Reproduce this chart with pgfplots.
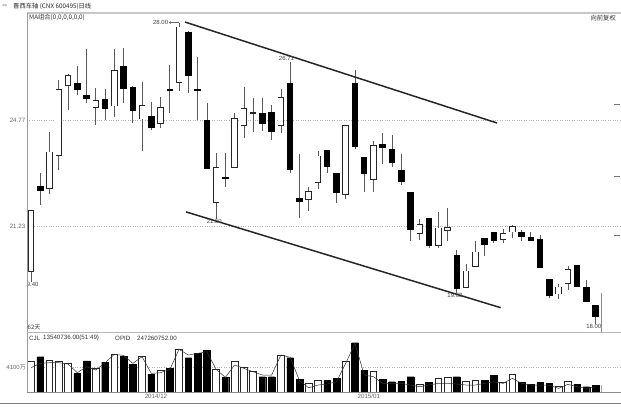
\documentclass[border=0pt]{standalone}
\usepackage{fontspec}
\setmainfont{Liberation Sans}
\newfontfamily\cjk{Noto Sans CJK SC}
\newfontfamily\sym{DejaVu Sans}
\usepackage{pgfplots}
\usepackage{pgfplotstable}
\usetikzlibrary{arrows.meta}
\pgfplotsset{compat=1.18}

% rising days: index, open, high, low, close
\pgfplotstableread{
i  o     h     l     c
0  19.72 21.78 19.40 21.78
2  22.47 24.38 22.30 23.72
3  23.58 26.10 23.11 25.80
4  25.90 26.30 25.10 26.26
7  25.16 25.84 24.60 25.44
9  25.22 27.12 24.88 26.42
12 24.79 26.02 23.74 25.27
14 24.64 25.54 24.49 25.21
16 25.99 28.00 25.74 27.87
20 22.01 23.69 21.50 23.20
22 23.19 24.99 23.19 24.83
23 24.58 25.88 24.16 25.16
24 24.99 25.49 24.38 25.03
27 24.58 25.79 24.35 25.52
30 22.11 22.56 21.75 22.42
31 22.67 23.75 22.49 23.59
34 22.28 24.60 22.14 24.60
37 22.78 24.08 22.37 23.94
42 20.99 21.47 20.79 21.31
44 20.60 21.73 20.51 21.20
45 21.09 21.84 20.76 21.21
47 19.20 19.99 19.20 19.77
48 19.89 20.76 19.89 20.40
51 20.79 21.14 20.68 21.01
52 21.04 21.30 20.84 21.26
57 18.98 19.32 18.83 19.24
58 19.33 19.92 19.13 19.82
}\upcandles

% falling days: index, open, high, low, close
\pgfplotstableread{
i  o     h     l     c
1  22.59 23.00 21.95 22.41
5  25.99 26.57 25.60 25.78
6  25.59 27.13 25.32 25.46
8  25.47 25.79 24.77 25.15
10 26.57 27.15 25.32 25.81
11 25.88 25.90 24.68 25.08
13 24.91 25.38 24.45 24.49
15 25.80 26.60 25.01 25.76
17 27.69 27.72 25.68 26.23
18 25.78 26.85 24.77 25.74
19 24.77 25.32 23.15 23.15
21 22.89 23.69 22.56 22.82
25 25.01 25.49 24.42 24.63
26 25.05 25.27 24.11 24.38
28 25.99 26.71 23.00 23.11
29 22.19 23.64 21.51 22.05
32 23.77 23.77 23.00 23.22
33 23.00 23.00 22.01 22.36
35 25.99 26.43 23.80 23.86
36 23.55 23.55 22.39 22.97
38 23.97 24.33 23.31 23.84
39 23.82 24.28 23.20 23.35
40 23.11 23.63 22.60 22.71
41 22.39 22.39 20.76 21.12
43 21.53 21.53 20.51 20.59
46 20.29 20.46 19.03 19.16
49 20.84 20.84 20.26 20.63
50 21.06 21.06 20.68 20.75
53 21.06 21.12 20.76 20.90
54 20.90 21.06 20.75 20.75
55 20.82 20.95 19.87 19.87
56 19.48 19.48 18.85 18.94
59 19.96 19.96 19.22 19.22
60 19.22 19.46 18.72 18.72
61 18.63 18.63 18.00 18.22
}\downcandles

% volume (10k shares) on rising days
\pgfplotstableread{
i  v
0  5200
2  5360
3  5080
4  4810
7  3990
9  6340
12 6010
14 3720
16 7110
20 3830
22 5200
23 4100
24 3560
27 6180
30 1500
31 2080
34 5200
37 3440
42 1420
44 2350
45 2510
47 1800
48 2080
51 1650
52 2950
57 980
58 1800
}\volup

% volume (10k shares) on falling days
\pgfplotstableread{
i  v
1  5900
5  3170
6  5200
8  5030
10 5960
11 4700
13 3010
15 3990
17 5740
18 6450
19 6890
21 2510
25 2620
26 2620
28 5740
29 2190
32 2080
33 2350
35 8200
36 3720
38 2190
39 1800
40 1860
41 2620
43 1700
46 2620
49 2080
50 2840
53 1700
54 1420
55 1700
56 1530
59 1370
60 980
61 1200
}\voldown

% volume average line
\pgfplotstableread{
i  m
0  4100
1  4810
2  4920
3  4920
4  4700
5  3280
6  4260
7  3720
8  4920
9  6290
10 6120
11 4810
12 5900
13 3170
14 3280
15 3830
16 7110
17 6180
18 6450
19 6720
20 3830
21 2510
22 4540
23 3990
24 3440
25 2900
26 2900
27 6180
28 5800
29 2000
30 800
31 1260
32 1420
33 1800
34 4810
35 8090
36 2900
37 2620
38 1530
39 1530
40 1530
41 1260
42 980
43 1260
44 1530
45 1530
46 1420
47 1260
48 1260
49 1530
50 1800
51 1530
52 2350
53 1530
54 1260
55 1260
56 1260
57 710
58 1370
59 980
60 710
61 980
}\volma

\pgfplotsset{
  wick/.style={draw=none, mark=none, forget plot,
    error bars/.cd, y dir=both, y explicit, error mark=none,
    error bar style={draw=black!65, line width=0.7pt, line cap=butt}},
  body/.style={draw=none, mark=none, forget plot,
    error bars/.cd, y dir=both, y explicit, error mark=none,
    error bar style={draw=#1, line width=6.5pt, line cap=butt}},
  inner/.style={draw=none, mark=none, forget plot,
    error bars/.cd, y dir=both, y explicit, error mark=none,
    error bar style={draw=white, line width=4.9pt, line cap=butt}},
}
\tikzset{lbl/.style={font=\fontsize{6}{6}\selectfont, text=black!75, inner sep=0.6pt}}

\begin{document}
\begin{tikzpicture}
\useasboundingbox (0pt,0pt) rectangle (621pt,410pt);

% price panel
\begin{axis}[
  at={(27pt,77pt)}, anchor=south west,
  scale only axis, width=594pt, height=320pt,
  xmin=-0.432, xmax=63.74, ymin=17.70, ymax=28.32,
  axis line style={draw=none}, major tick length=0pt,
  xtick=\empty,
  ytick={21.23,24.77}, yticklabels={21.23,24.77},
  ymajorgrids, grid style={dotted, black!30, line width=0.6pt},
  yticklabel style={font=\fontsize{6.2}{6}\selectfont, text=black!60, inner sep=1.5pt},
]
% wicks
\addplot[wick] table[x=i, y expr={(\thisrow{h}+\thisrow{l})/2},
  y error expr={(\thisrow{h}-\thisrow{l})/2}] {\upcandles};
\addplot[wick] table[x=i, y expr={(\thisrow{h}+\thisrow{l})/2},
  y error expr={(\thisrow{h}-\thisrow{l})/2}] {\downcandles};
% falling bodies
\addplot[body=black] table[x=i, y expr={(\thisrow{o}+\thisrow{c})/2},
  y error expr={max(abs(\thisrow{c}-\thisrow{o})/2,0.025)}] {\downcandles};
% rising bodies: outline, then hollow centre
\addplot[body=black!85] table[x=i, y expr={(\thisrow{o}+\thisrow{c})/2},
  y error expr={max(abs(\thisrow{c}-\thisrow{o})/2,0.025)}] {\upcandles};
\addplot[inner] table[x=i, y expr={(\thisrow{o}+\thisrow{c})/2},
  y error expr={max(abs(\thisrow{c}-\thisrow{o})/2-0.027,0)}] {\upcandles};

% channel lines
\addplot[black!85, line width=1.5pt, forget plot] coordinates {(16.64,28.02) (50.34,24.67)};
\addplot[black!85, line width=1.5pt, forget plot] coordinates {(16.74,21.72) (50.74,18.54)};

% marker of the last session
\addplot[black!45, line width=0.7pt, forget plot] coordinates {(61.58,19.04) (61.58,17.74)};

% value labels
\node[lbl, anchor=east] (hi) at (axis cs:14.9,28.00) {28.00};
\draw[black!60, line width=0.4pt, {Straight Barb[length=1.8pt, width=2.4pt]}-] (hi.east) -- (axis cs:16,28.00);
\node[lbl, anchor=south] at (axis cs:27.6,26.71) {26.71};
\node[lbl, anchor=north] at (axis cs:19.8,21.50) {21.50};
\node[lbl, anchor=north] at (axis cs:45.8,19.03) {19.03};
\node[lbl, anchor=north] at (axis cs:60.8,18.00) {18.00};
\node[lbl, anchor=north] at (axis cs:0,19.40) {19.40};
\end{axis}

% volume panel
\begin{axis}[
  at={(27pt,17.3pt)}, anchor=south west,
  scale only axis, width=594pt, height=59.7pt,
  xmin=-0.432, xmax=63.74, ymin=0, ymax=9791,
  axis line style={draw=none}, major tick length=0pt,
  xtick={13.5,36.5}, xticklabels={2014/12,2015/01},
  xticklabel style={font=\fontsize{6.2}{6}\selectfont, text=black!60, inner sep=1.5pt},
  ytick={4100}, yticklabels={4100{\cjk 万}},
  ymajorgrids, grid style={dotted, black!30, line width=0.6pt},
  yticklabel style={font=\fontsize{6}{6}\selectfont, text=black!60, inner sep=1pt},
]
\addplot[ybar, bar width=0.72, bar shift=0pt, fill=white, draw=black!85, line width=0.7pt] table[x=i, y=v] {\volup};
\addplot[ybar, bar width=0.72, bar shift=0pt, fill=black, draw=black] table[x=i, y=v] {\voldown};
\addplot[black!80, line width=0.5pt, mark=none] table[x=i, y=m] {\volma};
\addplot[black!35, line width=0.7pt, forget plot] coordinates {(61.58,0) (61.58,1300)};
\end{axis}

% panel frame
\draw[black!22, line width=1.3pt] (27pt,397pt) -- (621pt,397pt);
\draw[black!40, line width=0.6pt] (27pt,397pt) -- (27pt,17.3pt);
\draw[black!28, line width=1pt] (27pt,77.3pt) -- (621pt,77.3pt);
\draw[black!45, line width=0.8pt] (27pt,17.3pt) -- (621pt,17.3pt);
\draw[black!50, line width=0.9pt] (0pt,6.5pt) -- (621pt,6.5pt);
\foreach \yy in {306,234,175} \draw[black!55, line width=0.8pt] (614pt,\yy pt) -- (620pt,\yy pt);

% headers
\node[anchor=west, inner sep=0pt, font=\sym\fontsize{6}{6}\selectfont, text=black!45] at (2pt,404pt) {⇔};
\node[anchor=west, inner sep=0pt, font=\cjk\fontsize{6.3}{6}\selectfont, text=black!85] at (13pt,404pt) {晋西车轴 (CNX 600495)日线};
\node[anchor=west, inner sep=0pt, font=\cjk\fontsize{6.3}{6}\selectfont, text=black!80] at (29pt,392.5pt) {MA组合(0,0,0,0,0,0)};
\node[anchor=east, inner sep=0pt, font=\cjk\fontsize{6.3}{6}\selectfont, text=black!80] at (616pt,391.5pt) {向前复权};
\node[anchor=west, inner sep=0pt, font=\cjk\fontsize{6}{6}\selectfont, text=black!80] at (27.5pt,82.5pt) {62天};
\begin{scope}[every node/.style={anchor=west, inner sep=0pt, font=\fontsize{6.2}{6}\selectfont, text=black!80}]
\node at (29pt,72pt) {CJL};
\node at (43pt,72pt) {13540736.00(51:49)};
\node at (115pt,72pt) {OPID};
\node at (137pt,72pt) {247260752.00};
\end{scope}
\end{tikzpicture}
\end{document}
